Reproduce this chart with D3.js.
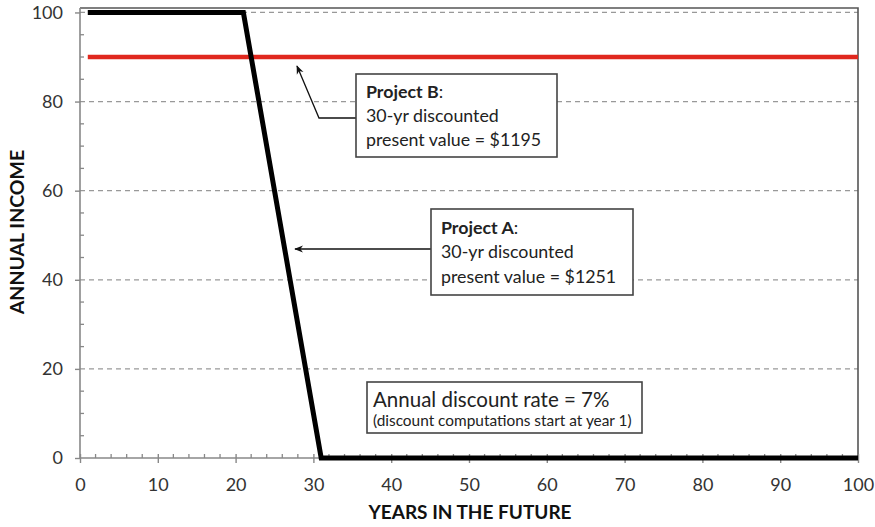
<!DOCTYPE html>
<html><head><meta charset="utf-8">
<script src="https://cdn.jsdelivr.net/npm/d3@7"></script>
<style>body{margin:0;background:#fff}svg{display:block}text{font-family:Lato,"Open Sans",sans-serif}</style>
</head><body><svg id="c" width="875" height="527"></svg>
<script>
const years = [1, 21, 31, 100];
const projectA = [100, 100, 0, 0];
const projectBYears = [1, 100];
const projectB = [90, 90];
const xTicks = [0,10,20,30,40,50,60,70,80,90,100];
const yTicks = [0,20,40,60,80,100];
const xLabel = "YEARS IN THE FUTURE";
const yLabel = "ANNUAL INCOME";
const noteB = ["Project B", "30-yr discounted", "present value = $1195"];
const noteA = ["Project A", "30-yr discounted", "present value = $1251"];
const noteRate = ["Annual discount rate = 7%", "(discount computations start at year 1)"];

const svg = d3.select("#c");
const x = d3.scaleLinear().domain([0,100]).range([80,858]);
const y = d3.scaleLinear().domain([0,101]).range([458,8]);

// gridlines
svg.append("g").selectAll("line").data(yTicks.filter(d=>d>0)).join("line")
  .attr("x1",x(0)).attr("x2",x(100)).attr("y1",d=>y(d)).attr("y2",d=>y(d))
  .attr("stroke","#999").attr("stroke-width",1.2).attr("stroke-dasharray","5,4");

// frame top/right
svg.append("path").attr("d",`M${x(0)},${y(101)}H${x(100)}V${y(0)}`)
  .attr("fill","none").attr("stroke","#555").attr("stroke-width",1.6);

// y axis
const yAxis = svg.append("g").attr("transform",`translate(${x(0)},0)`)
  .call(d3.axisLeft(y).tickValues(yTicks).tickSize(5).tickPadding(12));
yAxis.select(".domain").attr("stroke","#888").attr("stroke-width",1.6).attr("d",`M0,${y(0)}V${y(101)}`);
yAxis.selectAll(".tick line").attr("stroke","#888").attr("stroke-width",1.4);
yAxis.selectAll("text").attr("font-size",18).attr("fill","#333").style("font-family","Lato");
svg.append("g").attr("transform",`translate(${x(0)},0)`).selectAll("line")
  .data(d3.range(5,101,5).filter(d=>d%20)).join("line")
  .attr("x1",0).attr("x2",4).attr("y1",d=>y(d)).attr("y2",d=>y(d))
  .attr("stroke","#888").attr("stroke-width",1.3);

// x axis
const xAxis = svg.append("g").attr("transform",`translate(0,${y(0)})`)
  .call(d3.axisBottom(x).tickValues(xTicks).tickSize(5).tickPadding(15));
xAxis.select(".domain").attr("stroke","#888").attr("stroke-width",1.6).attr("d",`M${x(0)},0H${x(100)}`);
xAxis.selectAll(".tick line").attr("stroke","#888").attr("stroke-width",1.4).attr("y1",-4);
xAxis.selectAll("text").attr("font-size",18).attr("fill","#333").style("font-family","Lato");
svg.append("g").attr("transform",`translate(0,${y(0)})`).selectAll("line")
  .data(d3.range(2,100,2).filter(d=>d%10)).join("line")
  .attr("x1",d=>x(d)).attr("x2",d=>x(d)).attr("y1",-4).attr("y2",0)
  .attr("stroke","#888").attr("stroke-width",1.3);

// axis titles
svg.append("text").attr("x",470).attr("y",519).attr("text-anchor","middle")
  .attr("font-size",19).attr("font-weight","bold").attr("fill","#111").text(xLabel);
svg.append("text").attr("transform","translate(24,232) rotate(-90)").attr("text-anchor","middle")
  .attr("font-size",19.5).attr("font-weight","bold").attr("fill","#111").text(yLabel);

// lines
const line = d3.line().x(d=>x(d[0])).y(d=>y(d[1]));
svg.append("path").datum(projectBYears.map((d,i)=>[d,projectB[i]])).attr("d",line)
  .attr("fill","none").attr("stroke","#e0281e").attr("stroke-width",4.5);
svg.append("path").datum(years.map((d,i)=>[d,projectA[i]])).attr("d",line)
  .attr("fill","none").attr("stroke","#000").attr("stroke-width",5).attr("stroke-linejoin","miter");

// arrowhead marker
svg.append("defs").append("marker").attr("id","ah").attr("viewBox","0 0 10 10")
  .attr("refX",9).attr("refY",5).attr("markerWidth",9).attr("markerHeight",9)
  .attr("markerUnits","userSpaceOnUse").attr("orient","auto")
  .append("path").attr("d","M0,1L10,5L0,9L3,5Z").attr("fill","#111");

function box(x0,y0,w,h){
  svg.append("rect").attr("x",x0).attr("y",y0).attr("width",w).attr("height",h)
    .attr("fill","#fff").attr("stroke","#444").attr("stroke-width",1.6);
}
const fs = 17.8;
// Project B
svg.append("path").attr("d",`M356,118H319L297,66`).attr("fill","none")
  .attr("stroke","#111").attr("stroke-width",1.3).attr("marker-end","url(#ah)");
box(356,74,201,83);
let t = svg.append("text").attr("x",366).attr("y",98).attr("font-size",fs).attr("fill","#222");
t.append("tspan").attr("font-weight","bold").text(noteB[0]);
t.append("tspan").text(":");
svg.append("text").attr("x",366).attr("y",122).attr("font-size",fs).attr("fill","#222").text(noteB[1]);
svg.append("text").attr("x",366).attr("y",146).attr("font-size",fs).attr("fill","#222").text(noteB[2]);

// Project A
svg.append("path").attr("d",`M431,249H295`).attr("fill","none")
  .attr("stroke","#111").attr("stroke-width",1.3).attr("marker-end","url(#ah)");
box(431,209,202,86);
t = svg.append("text").attr("x",441).attr("y",234).attr("font-size",fs).attr("fill","#222");
t.append("tspan").attr("font-weight","bold").text(noteA[0]);
t.append("tspan").text(":");
svg.append("text").attr("x",441).attr("y",258).attr("font-size",fs).attr("fill","#222").text(noteA[1]);
svg.append("text").attr("x",441).attr("y",283).attr("font-size",fs).attr("fill","#222").text(noteA[2]);

// rate
box(367,382,275,51);
svg.append("text").attr("x",373).attr("y",407).attr("font-size",20.5).attr("fill","#222").text(noteRate[0]);
svg.append("text").attr("x",373).attr("y",426).attr("font-size",15.4).attr("fill","#222").text(noteRate[1]);
</script></body></html>
